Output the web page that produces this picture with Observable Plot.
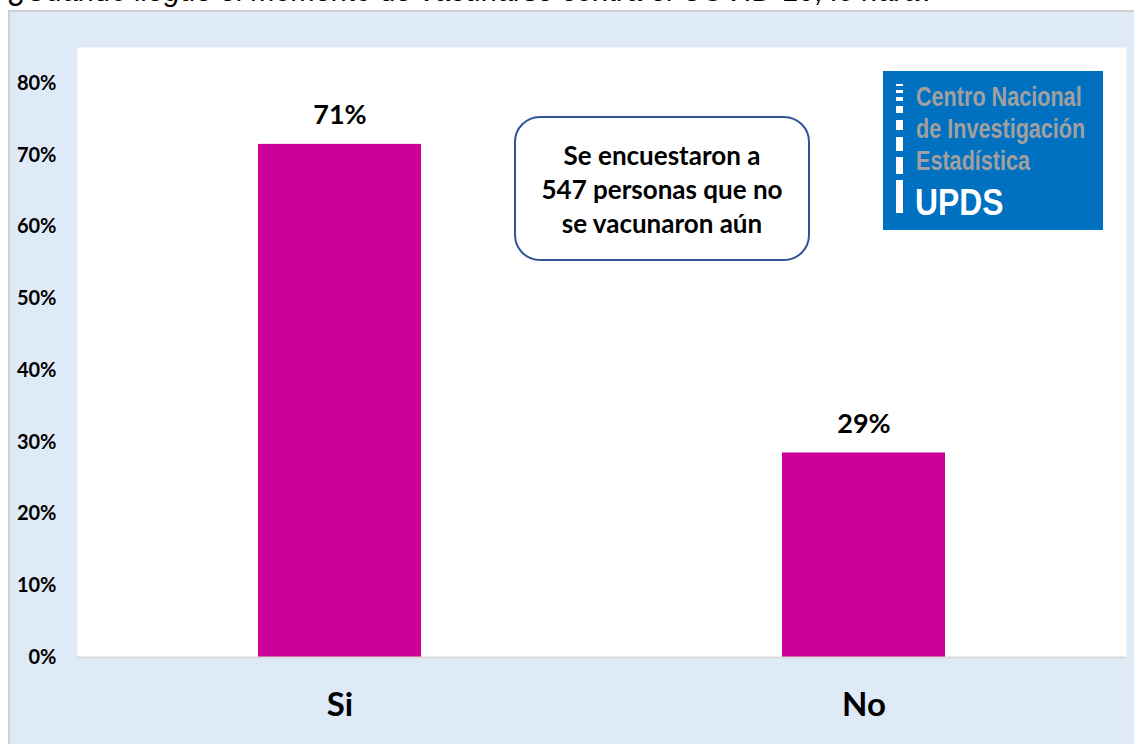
<!DOCTYPE html>
<html>
<head>
<meta charset="utf-8">
<script src="https://cdn.jsdelivr.net/npm/d3@7"></script>
<script src="https://cdn.jsdelivr.net/npm/@observablehq/plot@0.6"></script>
<style>
  html, body { margin: 0; padding: 0; background: #ffffff; }
  #wrap { position: relative; width: 1134px; height: 744px; overflow: hidden; }
  #title { position: absolute; left: 8px; top: -25px; font-family: "Liberation Sans", Arial, sans-serif; font-style: italic; font-size: 29px; color: #000; white-space: nowrap; }
  #panel { position: absolute; left: 8px; top: 10px; width: 1126px; height: 734px; background: #deeaf6; border-left: 2px solid #d0d0d0; border-top: 2px solid #d0d0d0; box-sizing: border-box; }
  #chart { position: absolute; left: 0; top: 0; }
  #note { position: absolute; left: 514px; top: 116px; width: 296px; height: 145px; box-sizing: border-box; border: 2px solid #2f5597; border-radius: 26px; background: #fff; display: flex; align-items: center; justify-content: center; text-align: center; font-family: Lato, "Open Sans", sans-serif; font-weight: bold; font-size: 26px; line-height: 34px; color: #000; }
  #logo { position: absolute; left: 883px; top: 71px; width: 220px; height: 159px; background: #0070c0; }
  .dash { position: absolute; left: 13px; width: 7px; background: #fff; }
  .lt { position: absolute; left: 33px; font-family: "Liberation Sans", Arial, sans-serif; font-weight: bold; font-size: 27px; color: #a0a0a0; white-space: nowrap; line-height: 1; transform: scaleX(0.8); transform-origin: 0 0; }
  .up { position: absolute; left: 32px; top: 113px; font-family: "Liberation Sans", Arial, sans-serif; font-weight: bold; font-size: 37px; color: #fff; line-height: 1; transform: scaleX(0.86); transform-origin: 0 0; }
</style>
</head>
<body>
<div id="wrap">
  <div id="title">¿Cuándo llegue el momento de vacunarse contra el COVID-19, lo hará?</div>
  <div id="panel"></div>
  <div id="chart"></div>
  <div id="note"><div>Se encuestaron a<br>547 personas que no<br>se vacunaron aún</div></div>
  <div id="logo">
    <div class="dash" style="top:13px;height:2px"></div>
    <div class="dash" style="top:19px;height:3px"></div>
    <div class="dash" style="top:26px;height:4px"></div>
    <div class="dash" style="top:35px;height:7px"></div>
    <div class="dash" style="top:49px;height:10px"></div>
    <div class="dash" style="top:66px;height:14px"></div>
    <div class="dash" style="top:86px;height:17px"></div>
    <div class="dash" style="top:109px;height:33px"></div>
    <div class="lt" style="top:13px">Centro Nacional</div>
    <div class="lt" style="top:45px">de Investigación</div>
    <div class="lt" style="top:77px">Estadística</div>
    <div class="up">UPDS</div>
  </div>
</div>
<script>
const categories = ["Si", "No"];
const values = [0.715, 0.285];
const valueLabels = ["71%", "29%"];
const yTicks = [0, 0.1, 0.2, 0.3, 0.4, 0.5, 0.6, 0.7, 0.8];

const data = categories.map((c, i) => ({cat: c, value: values[i], label: valueLabels[i]}));

const chart = Plot.plot({
  width: 1134,
  height: 744,
  marginLeft: 77,
  marginRight: 8,
  marginTop: 47,
  marginBottom: 87,
  style: {background: "transparent", fontFamily: "Lato, 'Open Sans', sans-serif", overflow: "visible"},
  x: {domain: categories, paddingInner: 0.688, paddingOuter: 0.344, label: null},
  y: {domain: [0, 0.85], label: null},
  marks: [
    Plot.frame({fill: "#ffffff", stroke: null}),
    Plot.axisY({ticks: yTicks, tickFormat: d3.format(".0%"), tickSize: 0, tickPadding: 21, fontSize: 20, fontWeight: "bold", fill: "#000"}),
    Plot.axisX({tickSize: 0, tickPadding: 35, fontSize: 33, fontWeight: "bold", fill: "#000"}),
    Plot.barY(data, {x: "cat", y: "value", fill: "#cc0099"}),
    Plot.ruleY([0], {stroke: "#d9d9d9", strokeWidth: 2}),
    Plot.text(data, {x: "cat", y: "value", text: "label", dy: -29, fontSize: 27, fontWeight: "bold", fill: "#000"})
  ]
});
document.getElementById("chart").appendChild(chart);
</script>
</body>
</html>
